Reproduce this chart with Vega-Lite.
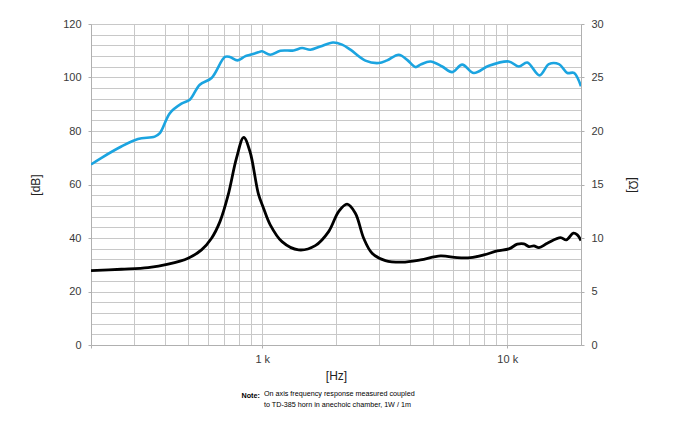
{
  "$schema": "https://vega.github.io/schema/vega-lite/v6.json",
  "width": 490,
  "height": 321,
  "autosize": {"type": "none"},
  "padding": {"left": 91, "top": 24, "right": 95, "bottom": 80},
  "background": "white",
  "title": {
    "text": ["On axis frequency response measured coupled", "to TD-385 horn in anechoic chamber, 1W / 1m"],
    "orient": "bottom",
    "anchor": "start",
    "frame": "group",
    "dx": 173,
    "offset": 0,
    "dy": -8,
    "font": "Liberation Sans",
    "fontSize": 7.2,
    "fontWeight": "normal",
    "lineHeight": 10.5,
    "color": "#000000"
  },
  "layer": [
    {
      "data": {
        "values": [
          {"f": 200, "spl": 67.5}, {"f": 220, "spl": 69.9}, {"f": 266, "spl": 74.2},
          {"f": 311, "spl": 77.0}, {"f": 364, "spl": 77.9}, {"f": 382, "spl": 79.2},
          {"f": 420, "spl": 86.7}, {"f": 468, "spl": 90.2}, {"f": 506, "spl": 91.7},
          {"f": 556, "spl": 97.3}, {"f": 621, "spl": 99.8}, {"f": 704, "spl": 107.7},
          {"f": 738, "spl": 107.7}, {"f": 793, "spl": 106.4}, {"f": 850, "spl": 107.9},
          {"f": 893, "spl": 108.5}, {"f": 963, "spl": 109.4}, {"f": 997, "spl": 109.8},
          {"f": 1078, "spl": 108.5}, {"f": 1185, "spl": 110.0}, {"f": 1342, "spl": 110.1},
          {"f": 1453, "spl": 111.0}, {"f": 1571, "spl": 110.4}, {"f": 1726, "spl": 111.6},
          {"f": 1945, "spl": 113.1}, {"f": 2117, "spl": 112.3}, {"f": 2289, "spl": 110.4},
          {"f": 2636, "spl": 106.3}, {"f": 2988, "spl": 105.4}, {"f": 3233, "spl": 106.4},
          {"f": 3606, "spl": 108.5}, {"f": 3903, "spl": 106.6}, {"f": 4221, "spl": 103.9},
          {"f": 4423, "spl": 104.8}, {"f": 4860, "spl": 106.0}, {"f": 5426, "spl": 104.1},
          {"f": 5961, "spl": 102.0}, {"f": 6549, "spl": 104.8}, {"f": 7303, "spl": 101.7},
          {"f": 8412, "spl": 104.4}, {"f": 10150, "spl": 106.0}, {"f": 11155, "spl": 104.1},
          {"f": 12070, "spl": 105.6}, {"f": 13550, "spl": 100.8}, {"f": 14790, "spl": 105.0},
          {"f": 16250, "spl": 105.0}, {"f": 17590, "spl": 101.7}, {"f": 18720, "spl": 101.7},
          {"f": 20000, "spl": 96.7}
        ]
      },
      "mark": {"type": "line", "color": "#1ba4e0", "strokeWidth": 2.6, "interpolate": "catmull-rom", "clip": true},
      "encoding": {
        "x": {
          "field": "f",
          "type": "quantitative",
          "scale": {"type": "log", "domain": [200, 20000], "nice": false},
          "axis": {
            "orient": "bottom",
            "title": "[Hz]",
            "titleFontSize": 12,
            "titleFontWeight": "normal",
            "titlePadding": 6,
            "values": [200, 300, 400, 500, 600, 700, 800, 900, 1000, 2000, 3000, 4000, 5000, 6000, 7000, 8000, 9000, 10000, 20000],
            "labelExpr": "datum.value == 1000 ? '1 k' : datum.value == 10000 ? '10 k' : ''",
            "tickOpacity": {"condition": {"test": "datum.value == 1000 || datum.value == 10000 || datum.value == 200", "value": 1}, "value": 0},
            "tickSize": 3,
            "labelPadding": 5,
            "grid": true
          }
        },
        "y": {
          "field": "spl",
          "type": "quantitative",
          "scale": {"domain": [0, 120], "nice": false},
          "axis": {
            "orient": "left",
            "title": "[dB]",
            "titleFontSize": 12,
            "titleFontWeight": "normal",
            "titlePadding": 20,
            "values": [0, 4, 8, 12, 16, 20, 24, 28, 32, 36, 40, 44, 48, 52, 56, 60, 64, 68, 72, 76, 80, 84, 88, 92, 96, 100, 104, 108, 112, 116, 120],
            "labelExpr": "datum.value % 20 === 0 ? datum.label : ''",
            "tickOpacity": {"condition": {"test": "datum.value % 20 === 0", "value": 1}, "value": 0},
            "tickSize": 3,
            "labelPadding": 7,
            "grid": true
          }
        }
      }
    },
    {
      "data": {
        "values": [
          {"f": 200, "imp": 6.95}, {"f": 266, "imp": 7.08}, {"f": 342, "imp": 7.23},
          {"f": 413, "imp": 7.55}, {"f": 498, "imp": 8.11}, {"f": 565, "imp": 8.89},
          {"f": 621, "imp": 9.98}, {"f": 672, "imp": 11.53}, {"f": 726, "imp": 14.03},
          {"f": 785, "imp": 17.46}, {"f": 840, "imp": 19.4}, {"f": 891, "imp": 18.08},
          {"f": 965, "imp": 14.1}, {"f": 1012, "imp": 12.79}, {"f": 1078, "imp": 11.23},
          {"f": 1204, "imp": 9.66}, {"f": 1407, "imp": 8.89}, {"f": 1646, "imp": 9.29},
          {"f": 1866, "imp": 10.6}, {"f": 2050, "imp": 12.47}, {"f": 2219, "imp": 13.16},
          {"f": 2399, "imp": 12.32}, {"f": 2594, "imp": 9.98}, {"f": 2808, "imp": 8.58},
          {"f": 3182, "imp": 7.89}, {"f": 3724, "imp": 7.74}, {"f": 4423, "imp": 7.95},
          {"f": 5339, "imp": 8.33}, {"f": 6247, "imp": 8.17}, {"f": 7079, "imp": 8.17},
          {"f": 8024, "imp": 8.42}, {"f": 9103, "imp": 8.79}, {"f": 10150, "imp": 8.98},
          {"f": 10990, "imp": 9.42}, {"f": 11690, "imp": 9.45}, {"f": 12260, "imp": 9.2},
          {"f": 12850, "imp": 9.26}, {"f": 13470, "imp": 9.1}, {"f": 14570, "imp": 9.51},
          {"f": 16510, "imp": 10.04}, {"f": 17420, "imp": 9.82}, {"f": 18610, "imp": 10.45},
          {"f": 19320, "imp": 10.29}, {"f": 20000, "imp": 9.76}
        ]
      },
      "mark": {"type": "line", "color": "#000000", "strokeWidth": 2.8, "interpolate": "catmull-rom", "clip": true},
      "encoding": {
        "x": {
          "field": "f",
          "type": "quantitative",
          "scale": {"type": "log", "domain": [200, 20000], "nice": false},
          "axis": {
            "orient": "bottom",
            "title": "Note:",
            "titleFontSize": 7.2,
            "titleFontWeight": "bold",
            "titleColor": "#000000",
            "titleAlign": "left",
            "titleBaseline": "alphabetic",
            "titleAnchor": "start",
            "titleX": 150,
            "titleY": 52,
            "labels": false,
            "ticks": false,
            "domain": false,
            "grid": false
          }
        },
        "y": {
          "field": "imp",
          "type": "quantitative",
          "scale": {"domain": [0, 30], "nice": false},
          "axis": {
            "orient": "right",
            "title": "[Ω]",
            "titleFontSize": 12,
            "titleFontWeight": "normal",
            "titlePadding": 22,
            "values": [0, 5, 10, 15, 20, 25, 30],
            "tickSize": 3,
            "labelPadding": 7,
            "grid": false
          }
        }
      }
    }
  ],
  "resolve": {
    "scale": {"y": "independent"},
    "axis": {"x": "independent", "y": "independent"}
  },
  "config": {
    "view": {"stroke": null},
    "font": "Liberation Sans",
    "axis": {
      "labelFont": "Liberation Sans",
      "labelFontSize": 11,
      "labelColor": "#3a3a3a",
      "titleFont": "Liberation Sans",
      "titleColor": "#222222",
      "domainColor": "#b0b0b0",
      "tickColor": "#b0b0b0",
      "gridColor": "#c8c8c8",
      "gridWidth": 1
    }
  }
}
